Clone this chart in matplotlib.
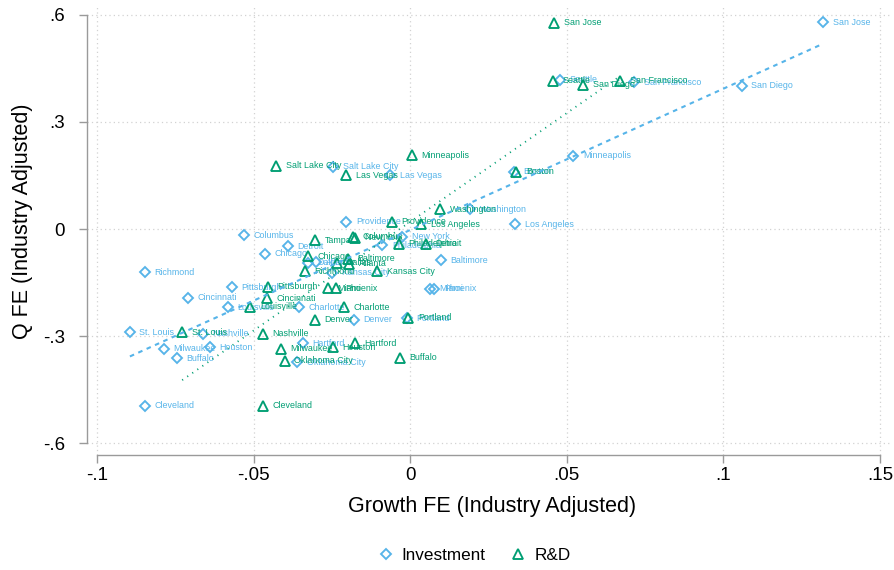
import numpy as np
import matplotlib
matplotlib.use("Agg")
import matplotlib.pyplot as plt
from matplotlib.lines import Line2D

plt.rcParams['font.family'] = ['Liberation Sans', 'DejaVu Sans']

# City fixed effects: investment sample
inv_city = ["San Jose", "San Diego", "San Francisco", "Seattle", "Minneapolis", "Boston",
            "Washington", "Los Angeles", "Baltimore", "Phoenix", "Miami", "Salt Lake City",
            "Las Vegas", "Providence", "New York", "Philadelphia", "Detroit", "Columbus",
            "Chicago", "Dallas", "Atlanta", "Kansas City", "Richmond", "Pittsburgh",
            "Cincinnati", "Louisville", "Charlotte", "Denver", "Portland", "St. Louis",
            "Nashville", "Milwaukee", "Houston", "Buffalo", "Hartford", "Oklahoma City",
            "Cleveland"]
inv_growth = [0.1319, 0.1058, 0.0716, 0.0479, 0.0521, 0.0332,
              0.0192, 0.0335, 0.0099, 0.0077, 0.0064, -0.0246,
              -0.0064, -0.0204, -0.0026, -0.0089, -0.0390, -0.0530,
              -0.0463, -0.0326, -0.0300, -0.0249, -0.0847, -0.0569,
              -0.0709, -0.0581, -0.0355, -0.0179, -0.0010, -0.0895,
              -0.0661, -0.0786, -0.0639, -0.0744, -0.0342, -0.0360,
              -0.0847]
inv_q = [0.580, 0.401, 0.412, 0.418, 0.205, 0.160,
         0.056, 0.014, -0.087, -0.168, -0.168, 0.174,
         0.151, 0.020, -0.022, -0.045, -0.048, -0.017,
         -0.070, -0.095, -0.093, -0.123, -0.121, -0.163,
         -0.193, -0.219, -0.219, -0.255, -0.250, -0.289,
         -0.294, -0.336, -0.331, -0.362, -0.320, -0.373,
         -0.496]

# City fixed effects: R&D sample
rd_city = ["San Jose", "Seattle", "San Diego", "San Francisco", "Minneapolis", "Boston",
           "Salt Lake City", "Las Vegas", "Washington", "Providence", "Los Angeles", "Tampa",
           "Columbus", "New York", "Philadelphia", "Detroit", "Chicago", "Baltimore",
           "Dallas", "Atlanta", "Richmond", "Kansas City", "Pittsburgh", "Cincinnati",
           "Louisville", "Miami", "Phoenix", "Charlotte", "Denver", "Portland",
           "St. Louis", "Nashville", "Milwaukee", "Houston", "Hartford", "Oklahoma City",
           "Buffalo", "Cleveland"]
rd_growth = [0.0460, 0.0457, 0.0553, 0.0671, 0.0006, 0.0339,
             -0.0428, -0.0204, 0.0096, -0.0058, 0.0035, -0.0304,
             -0.0182, -0.0175, -0.0035, 0.0051, -0.0326, -0.0200,
             -0.0233, -0.0195, -0.0335, -0.0105, -0.0454, -0.0457,
             -0.0510, -0.0262, -0.0236, -0.0210, -0.0304, -0.0006,
             -0.0728, -0.0470, -0.0412, -0.0246, -0.0176, -0.0400,
             -0.0032, -0.0470]
rd_q = [0.578, 0.415, 0.404, 0.415, 0.207, 0.160,
        0.177, 0.151, 0.056, 0.020, 0.014, -0.031,
        -0.022, -0.024, -0.042, -0.042, -0.076, -0.084,
        -0.095, -0.098, -0.118, -0.118, -0.162, -0.194,
        -0.218, -0.166, -0.166, -0.219, -0.255, -0.249,
        -0.289, -0.294, -0.336, -0.331, -0.320, -0.370,
        -0.361, -0.496]

x_ticks = [-0.1, -0.05, 0, 0.05, 0.1, 0.15]
x_ticklabels = ["-.1", "-.05", "0", ".05", ".1", ".15"]
y_ticks = [-0.6, -0.3, 0, 0.3, 0.6]
y_ticklabels = ["-.6", "-.3", "0", ".3", ".6"]

BLUE = "#56B4E9"
GREEN = "#009E73"
AXIS_GRAY = "#9a9a9a"

W, H = 894, 570
fig = plt.figure(figsize=(W / 100, H / 100), dpi=100)
ax = fig.add_axes([87 / W, (H - 455) / H, (890 - 87) / W, (455 - 5) / H])

ax.set_xlim(-0.1 - 10 / 3130, 0.15 + 10 / 3130)
ax.set_ylim(-0.6 - 12 / 356.7, 0.6 + 10 / 356.7)

# dotted grid at every major tick
for xv in x_ticks:
    ax.axvline(xv, color="#d2d2d2", lw=0.9, ls=(0, (1, 2.5)), zorder=0)
for yv in y_ticks:
    ax.axhline(yv, color="#d2d2d2", lw=0.9, ls=(0, (1, 2.5)), zorder=0)


def scatter_series(xs, ys, names, marker, ms, color):
    ax.plot(xs, ys, ls="none", marker=marker, ms=ms, mfc="none", mec=color,
            mew=1.35, zorder=3)
    for xv, yv, nm in zip(xs, ys, names):
        ax.annotate(nm, (xv, yv), xytext=(6.8, 0), textcoords="offset points",
                    va="center", ha="left", fontsize=6.4, color=color, zorder=3)


scatter_series(inv_growth, inv_q, inv_city, "D", 5.3, BLUE)
scatter_series(rd_growth, rd_q, rd_city, "^", 6.9, GREEN)

# linear fits over each sample's range
def fit_line(xs, ys, color, ls, lw):
    xs = np.asarray(xs)
    ys = np.asarray(ys)
    b, a = np.polyfit(xs, ys, 1)
    xx = np.array([xs.min(), xs.max()])
    ax.plot(xx, a + b * xx, color=color, ls=ls, lw=lw, zorder=4)


fit_line(inv_growth, inv_q, BLUE, (0, (2.2, 2.2)), 1.5)
fit_line(rd_growth, rd_q, GREEN, (0, (0.6, 2.8)), 1.3)

for side in ("top", "right"):
    ax.spines[side].set_visible(False)
for side in ("left", "bottom"):
    ax.spines[side].set_color(AXIS_GRAY)
    ax.spines[side].set_linewidth(1.0)
ax.spines["left"].set_bounds(-0.6, 0.6)
ax.spines["bottom"].set_bounds(-0.1, 0.15)

ax.set_xticks(x_ticks)
ax.set_xticklabels(x_ticklabels)
ax.set_yticks(y_ticks)
ax.set_yticklabels(y_ticklabels)
ax.tick_params(axis="both", direction="out", length=6, width=1.0, color=AXIS_GRAY,
               labelsize=13.5, labelcolor="black")
ax.tick_params(axis="x", pad=3)
ax.tick_params(axis="y", pad=10)

ax.set_xlabel("Growth FE (Industry Adjusted)", fontsize=15.5)
ax.set_ylabel("Q FE (Industry Adjusted)", fontsize=15.5)
ax.yaxis.set_label_coords(-54 / 803, 0.5 + 9 / 450)
ax.xaxis.set_label_coords(0.5 + 4 / 803, -41 / 450)

handles = [
    Line2D([], [], ls="none", marker="D", ms=5.3, mfc="none", mec=BLUE, mew=1.35),
    Line2D([], [], ls="none", marker="^", ms=6.9, mfc="none", mec=GREEN, mew=1.35),
]
fig.legend(handles, ["Investment", "R&D"], loc="center", bbox_to_anchor=(473 / W, 15 / H),
           ncol=2, frameon=False, fontsize=12.3, handletextpad=0.35, columnspacing=1.3,
           handlelength=1.2)

fig.savefig("out.png", dpi=100)
